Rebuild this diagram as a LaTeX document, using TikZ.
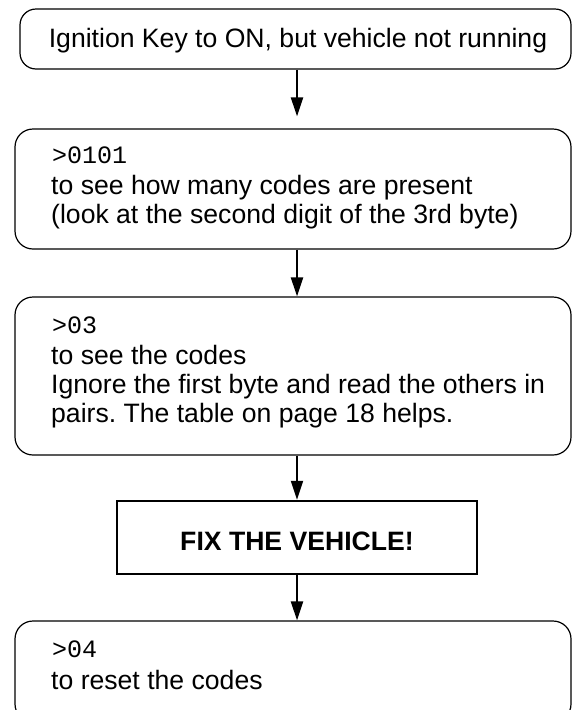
\documentclass[tikz,border=0pt]{standalone}
\usepackage{fontspec}
\setmainfont{Liberation Sans}
\newfontfamily\monofam{Liberation Mono}
\usetikzlibrary{arrows.meta}
\frenchspacing
\begin{document}
\begin{tikzpicture}[x=1pt,y=-1pt,
  rbox/.style={draw=black, line width=1.2pt, rounded corners=18pt, inner sep=0pt},
  sqbox/.style={draw=black, line width=2.4pt, inner sep=0pt},
  txt/.style={inner sep=0pt, font=\fontsize{26.6}{30}\selectfont},
  mtxt/.style={inner sep=0pt, font=\fontsize{25}{28}\monofam},
  arr/.style={line width=2pt, -{Triangle[width=12pt,length=19pt]}}]
\useasboundingbox (0,0) rectangle (572,710);
\clip (0,0) rectangle (572,710);
% boxes
\node[rbox, rounded corners=16pt, minimum width=551pt, minimum height=60pt] (b1) at (295.5,39) {};
\node[rbox, minimum width=556pt, minimum height=120pt] (b2) at (293,189) {};
\node[rbox, minimum width=556pt, minimum height=158pt] (b3) at (293,376) {};
\node[sqbox, minimum width=360pt, minimum height=73pt] (b4) at (297,537.5) {};
\node[rbox, minimum width=556pt, minimum height=101pt] (b5) at (293,671.5) {};
% texts
\node[txt, anchor=base] (t1) at (298,47) {Ignition Key to ON, but vehicle not running};
\node[mtxt, anchor=base west] (t2a) at (52,163) {>0101};
\node[txt, anchor=base west] (t2b) at (51,194) {to see how many codes are present};
\node[txt, anchor=base west] (t2c) at (51,223) {(look at the second digit of the 3rd byte)};
\node[mtxt, anchor=base west] (t3a) at (52,333) {>03};
\node[txt, anchor=base west] (t3b) at (51,364) {to see the codes};
\node[txt, anchor=base west] (t3c) at (51,393) {Ignore the first byte and read the others in};
\node[txt, anchor=base west] (t3d) at (51,422) {pairs. The table on page 18 helps.};
\node[txt, font=\fontsize{26.6}{30}\selectfont\bfseries, anchor=base] (t4) at (297,550) {FIX THE VEHICLE!};
\node[mtxt, anchor=base west] (t5a) at (52,657) {>04};
\node[txt, anchor=base west] (t5b) at (51,689) {to reset the codes};
% connectors
\draw[arr, shorten >=12pt] (b1.south -| b4) -- (b2.north -| b4);
\draw[arr] (b2.south -| b4) -- (b3.north -| b4);
\draw[arr] (b3.south -| b4) -- (b4.north);
\draw[arr] (b4.south) -- (b5.north -| b4);
\end{tikzpicture}
\end{document}
